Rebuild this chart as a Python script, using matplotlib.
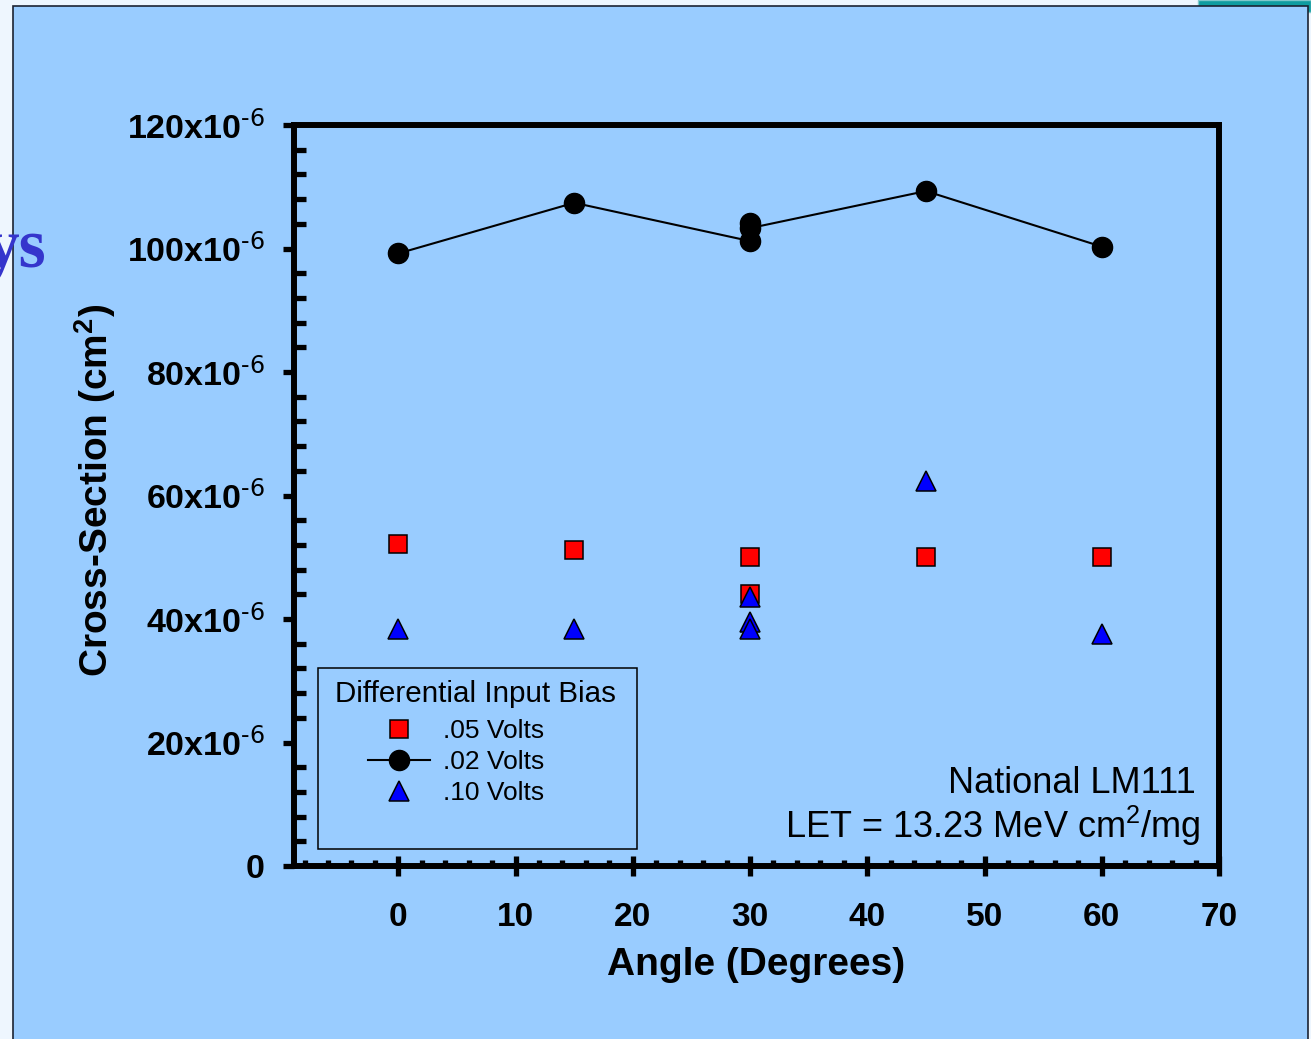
import matplotlib.pyplot as plt
from matplotlib.patches import Rectangle
from matplotlib.ticker import MultipleLocator

plt.rcParams["font.family"] = ["Liberation Sans", "DejaVu Sans"]
plt.rcParams["mathtext.default"] = "regular"

# cross-section vs angle, values in units of 1e-6 cm^2
angle_05 = [0, 15, 30, 30, 45, 60]
sigma_05 = [52.2, 51.1, 50.1, 44.1, 50.1, 50.1]

angle_02 = [0, 15, 30, 30, 30, 45, 60]
sigma_02 = [99.2, 107.4, 101.2, 104.2, 103.3, 109.3, 100.3]

angle_10 = [0, 15, 30, 30, 30, 45, 60]
sigma_10 = [38.4, 38.4, 43.6, 39.5, 38.3, 62.4, 37.5]

series_labels = [".05 Volts", ".02 Volts", ".10 Volts"]
legend_title = "Differential Input Bias"

x_ticks = [0, 10, 20, 30, 40, 50, 60, 70]
y_ticks = [0, 20, 40, 60, 80, 100, 120]
y_tick_labels = ["0"] + [f"{v}x10$^{{\\text{{-6}}}}$" for v in y_ticks[1:]]

W, H = 1311, 1039


def px_box(left, top, right, bottom):
    # pixel box -> figure fraction [x, y, w, h]
    return [left / W, 1 - bottom / H, (right - left) / W, (bottom - top) / H]


fig = plt.figure(figsize=(W / 100, H / 100), dpi=100, facecolor="#EEF6FE")

# slide background pieces
fig.add_artist(Rectangle((1198 / W, 1 - 12 / H), (W - 1198) / W, 12 / H,
                         transform=fig.transFigure, fc="#0F9CA0", ec="#7FC8CC",
                         lw=1, zorder=-6))
fig.add_artist(Rectangle((13 / W, -0.01), (1308 - 13) / W, 1.01 - 5.7 / H,
                         transform=fig.transFigure, fc="#99CCFF", ec="#1C2333",
                         lw=1.2, zorder=-5))
fig.text(46 / W, 1 - 267 / H, "ys", ha="right", va="baseline", fontsize=50,
         family="Liberation Serif", weight="bold", color="#3535CC")

ax = fig.add_axes(px_box(294, 125, 1219, 866))
ax.set_facecolor("none")

sq, = ax.plot(angle_05, sigma_05, ls="none", marker="s", ms=13.5,
              mfc="#FF0000", mec="black", mew=1.1, zorder=4)
ci, = ax.plot(angle_02, sigma_02, color="black", lw=1.5, marker="o", ms=14.5,
              mfc="black", mec="black", zorder=3)
tr, = ax.plot(angle_10, sigma_10, ls="none", marker="^", ms=15,
              mfc="#0000FF", mec="black", mew=1.1, zorder=5)

ax.set_xlim(-8.9, 70)
ax.set_ylim(0, 120)
ax.set_xticks(x_ticks, [str(v) for v in x_ticks], fontsize=24, fontweight="bold")
ax.set_yticks(y_ticks, y_tick_labels, fontsize=24.5, fontweight="bold")
ax.xaxis.set_minor_locator(MultipleLocator(2))
ax.yaxis.set_minor_locator(MultipleLocator(4))

for s in ax.spines.values():
    s.set_linewidth(4.3)
ax.tick_params(axis="x", which="major", direction="inout", length=13.7, width=3.8, pad=19)
ax.tick_params(axis="x", which="minor", direction="in", length=4.5, width=3.8)
ax.tick_params(axis="y", which="major", direction="out", length=8, width=3.8, pad=13)
ax.tick_params(axis="y", which="minor", direction="in", length=8.6, width=3.8)

ax.set_xlabel("Angle (Degrees)", fontsize=28, fontweight="bold")
ax.xaxis.set_label_coords(0.5, -0.109)
ax.set_ylabel("Cross-Section (cm$^2$)", fontsize=28, fontweight="bold")
ax.yaxis.set_label_coords(-0.190, 0.507)

# legend: box + title drawn separately, entries from legend()
ax.add_patch(Rectangle(((318 - 294) / 925, (866 - 849) / 741), 319 / 925, 181 / 741,
                       transform=ax.transAxes, fill=False, ec="black", lw=1.1))
ax.text(0.196, (866 - 701.7) / 741, legend_title, transform=ax.transAxes,
        ha="center", va="baseline", fontsize=21.3)
ax.legend([sq, ci, tr], series_labels, loc="upper left",
          bbox_to_anchor=((368 - 294) / 925, (866 - 719) / 741),
          frameon=False, fontsize=19, handlelength=2.35, handletextpad=0.5,
          labelspacing=0.27, borderpad=0, borderaxespad=0)

ax.text((1196 - 294) / 925, (866 - 793) / 741, "National LM111",
        transform=ax.transAxes, ha="right", va="baseline", fontsize=26)
ax.text((1201 - 294) / 925, (866 - 838) / 741, "LET = 13.23 MeV cm$^2$/mg",
        transform=ax.transAxes, ha="right", va="baseline", fontsize=26)

fig.savefig("out.png", dpi=100, facecolor=fig.get_facecolor())
